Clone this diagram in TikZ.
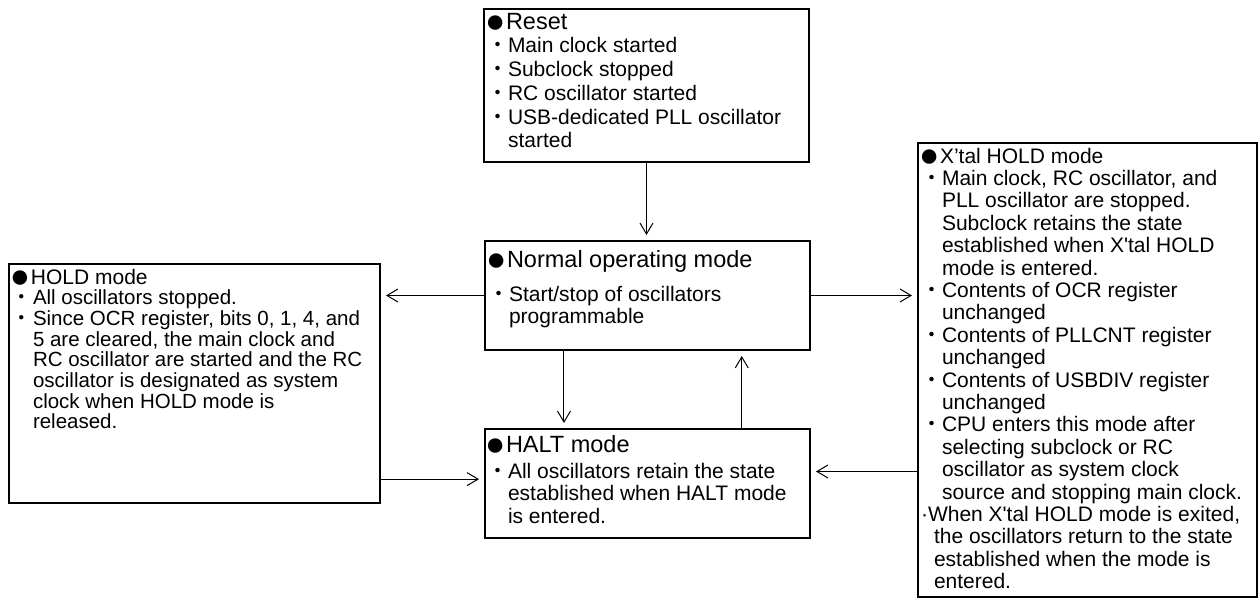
\documentclass[tikz,border=0pt]{standalone}
\usepackage{fontspec}
\newfontfamily\lib{Liberation Sans}
\newfontfamily\cjk{Noto Sans CJK JP}
\usetikzlibrary{arrows.meta,calc}

\newcommand\hdline[2]{\makebox[19pt][l]{\rule{0pt}{18pt}\hspace*{-2pt}\smash{\raisebox{-3.5pt}{\scalebox{1.6}{\fontsize{21}{21}\selectfont ●}}}}{\fontsize{#1}{#1}\selectfont #2}}
\newcommand\bul{\makebox[21pt][l]{\smash{\cjk ・}}}
\newcommand\cont{\hspace*{21pt}}

\begin{document}
\begin{tikzpicture}[x=1pt,y=-1pt,
  box/.style={draw, line width=1.3pt, anchor=north west, inner sep=0pt, outer sep=0pt},
  txt/.style={anchor=north west, inner sep=0pt, outer sep=0pt, align=left},
  arr/.style={line width=1pt, shorten >=6pt, -{Straight Barb[length=11pt,width=13pt,line width=1pt]}}]
\useasboundingbox (0,0) rectangle (1258,599);

% boxes
\node[box, minimum width=325pt, minimum height=153pt] (reset) at (484,9) {};
\node[box, minimum width=325pt, minimum height=109pt] (normal) at (485,241) {};
\node[box, minimum width=325pt, minimum height=109pt] (halt) at (485,429) {};
\node[box, minimum width=371pt, minimum height=239pt] (hold) at (9,264) {};
\node[box, minimum width=339pt, minimum height=454pt] (xtal) at (918,143) {};

% texts
\node[txt, font=\lib\fontsize{21}{23.8}\selectfont] (resettext) at (487,11) {%
\hdline{23.5}{Reset}\\
\bul Main clock started\\
\bul Subclock stopped\\
\bul RC oscillator started\\
\bul USB-dedicated PLL oscillator\\
\cont started};

\node[txt, font=\lib\fontsize{21}{22}\selectfont] (normaltext) at (488,249) {%
\hdline{23.5}{Normal operating mode}\\[12pt]
\bul Start/stop of oscillators\\
\cont programmable};

\node[txt, font=\lib\fontsize{21}{22.5}\selectfont] (halttext) at (487,434) {%
\hdline{23.5}{HALT mode}\\[3.5pt]
\bul All oscillators retain the state\\
\cont established when HALT mode\\
\cont is entered.};

\node[txt, font=\lib\fontsize{20.5}{20.7}\selectfont] (holdtext) at (12,266) {%
\hdline{21}{HOLD mode}\\
\bul All oscillators stopped.\\
\bul Since OCR register, bits 0, 1, 4, and\\
\cont 5 are cleared, the main clock and\\
\cont RC oscillator are started and the RC\\
\cont oscillator is designated as system\\
\cont clock when HOLD mode is\\
\cont released.};

\node[txt, font=\lib\fontsize{21}{22.4}\selectfont] (xtaltext) at (921,145) {%
\hdline{21}{X’tal HOLD mode}\\
\bul Main clock, RC oscillator, and\\
\cont PLL oscillator are stopped.\\
\cont Subclock retains the state\\
\cont established when X'tal HOLD\\
\cont mode is entered.\\
\bul Contents of OCR register\\
\cont unchanged\\
\bul Contents of PLLCNT register\\
\cont unchanged\\
\bul Contents of USBDIV register\\
\cont unchanged\\
\bul CPU enters this mode after\\
\cont selecting subclock or RC\\
\cont oscillator as system clock\\
\cont source and stopping main clock.\\
\makebox[7pt][l]{·}When X'tal HOLD mode is exited,\\
\hspace*{13pt}the oscillators return to the state\\
\hspace*{13pt}established when the mode is\\
\hspace*{13pt}entered.};

% connectors
\draw[arr] (reset.south) -- (reset.south |- normal.north);
\draw[arr] (normal.west) -- (normal.west -| hold.east);
\draw[arr] (normal.east) -- (normal.east -| xtal.west);
\coordinate (n1) at ($(normal.south west)!0.243!(normal.south east)$);
\draw[arr] (n1) -- (n1 |- halt.north);
\coordinate (h1) at ($(halt.north west)!0.79!(halt.north east)$);
\draw[arr] (h1) -- (h1 |- normal.south);
\coordinate (h2) at ($(halt.north west)!0.46!(halt.south west)$);
\draw[arr] (h2 -| hold.east) -- (h2);
\coordinate (h3) at ($(halt.north east)!0.39!(halt.south east)$);
\draw[arr] (h3 -| xtal.west) -- (h3);
\end{tikzpicture}
\end{document}
